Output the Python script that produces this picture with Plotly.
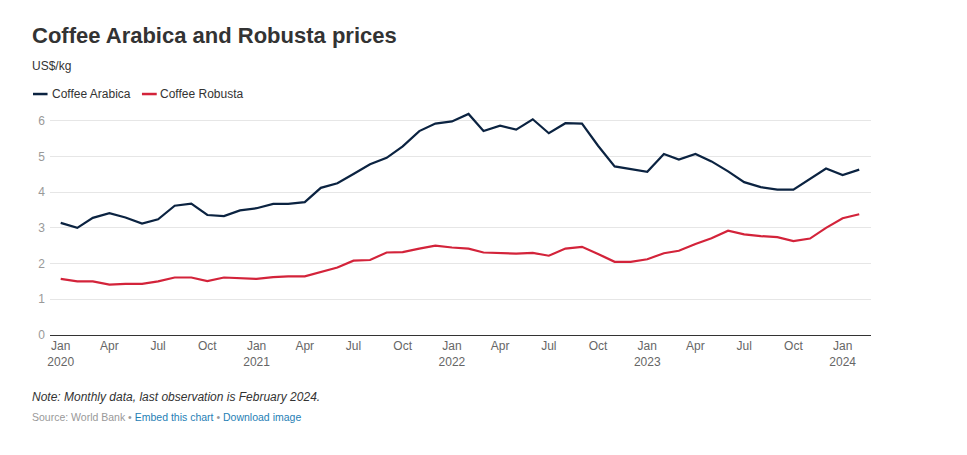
import pandas as pd
import plotly.graph_objects as go

# monthly prices, US$/kg, Jan 2020 - Feb 2024
months = pd.date_range("2020-01-01", "2024-02-01", freq="MS")

arabica = [3.14, 3.00, 3.28, 3.41, 3.29, 3.12, 3.24, 3.62, 3.68, 3.36, 3.33, 3.49,
           3.55, 3.67, 3.67, 3.72, 4.12, 4.25, 4.51, 4.78, 4.96, 5.28, 5.71, 5.92,
           5.98, 6.19, 5.71, 5.86, 5.75, 6.04, 5.65, 5.93, 5.92, 5.30, 4.72, 4.64,
           4.57, 5.07, 4.91, 5.07, 4.86, 4.58, 4.28, 4.14, 4.07, 4.07, 4.36, 4.66,
           4.48, 4.63]

robusta = [1.57, 1.50, 1.50, 1.41, 1.43, 1.43, 1.50, 1.61, 1.61, 1.51, 1.61, 1.60,
           1.57, 1.62, 1.64, 1.64, 1.77, 1.89, 2.08, 2.10, 2.31, 2.32, 2.42, 2.50,
           2.45, 2.42, 2.31, 2.30, 2.28, 2.30, 2.22, 2.42, 2.47, 2.27, 2.05, 2.05,
           2.12, 2.29, 2.36, 2.55, 2.71, 2.92, 2.82, 2.77, 2.74, 2.63, 2.70, 3.00,
           3.27, 3.38]

series_names = ["Coffee Arabica", "Coffee Robusta"]
series_colors = ["#0b2341", "#d3233a"]

tick_dates = pd.date_range("2020-01-01", "2024-01-01", freq="QS")
tick_text = [d.strftime("%b") + ("<br>" + str(d.year) if d.month == 1 else "")
             for d in tick_dates]

FONT = "Liberation Sans, Arial, sans-serif"
TX = -0.0244  # left edge of the text block

fig = go.Figure()
for name, vals, col in zip(series_names, [arabica, robusta], series_colors):
    fig.add_trace(go.Scatter(x=months, y=vals, mode="lines", name=name,
                             line=dict(color=col, width=2.2)))

# page body has an 8px margin, so the figure is a bit smaller than the window
fig.update_layout(
    width=959, height=447,
    margin=dict(l=42, r=96, t=102, b=120),
    plot_bgcolor="white", paper_bgcolor="white",
    font=dict(family=FONT, color="#333333"),
    showlegend=False,
)

fig.update_xaxes(
    type="date",
    range=["2019-12-12", "2024-02-23"],
    tickvals=tick_dates, ticktext=tick_text,
    showgrid=False, showline=True, linecolor="#333333", linewidth=1,
    ticks="", tickfont=dict(size=12, color="#666666"),
)
fig.update_yaxes(
    range=[0, 6.3], tickvals=[0, 1, 2, 3, 4, 5, 6],
    showgrid=True, gridcolor="#e6e6e6", gridwidth=1,
    zeroline=False, showline=False, ticks="",
    tickfont=dict(size=12, color="#999999"), ticklabelstandoff=4,
)

# hand-made legend (short line swatches like the original)
leg_y = 1.071
swatches = [(-0.0207, -0.003, 0.0000), (0.112, 0.130, 0.131)]
for (x0, x1, tx), name, col in zip(swatches, series_names, series_colors):
    fig.add_shape(type="line", xref="paper", yref="paper", x0=x0, x1=x1, y0=leg_y, y1=leg_y,
                  line=dict(color=col, width=2.5))
    fig.add_annotation(text=name, xref="paper", yref="paper", x=tx, y=leg_y,
                       xanchor="left", yanchor="middle", showarrow=False,
                       font=dict(size=12, color="#333333", family=FONT))

fig.add_annotation(text="<b>Coffee Arabica and Robusta prices</b>", xref="paper", yref="paper",
                   x=TX, y=1.333, xanchor="left", yanchor="middle", showarrow=False,
                   font=dict(size=22, color="#333333", family=FONT))
fig.add_annotation(text="US$/kg", xref="paper", yref="paper",
                   x=TX, y=1.196, xanchor="left", yanchor="middle", showarrow=False,
                   font=dict(size=12, color="#333333", family=FONT))
fig.add_annotation(text="<i>Note: Monthly data, last observation is February 2024.</i>",
                   xref="paper", yref="paper", x=TX, y=-0.276, xanchor="left",
                   yanchor="middle", showarrow=False,
                   font=dict(size=12, color="#333333", family=FONT))
fig.add_annotation(text="Source: World Bank • <span style='color:#1f80b5'>Embed this chart</span>"
                        " • <span style='color:#1f80b5'>Download image</span>",
                   xref="paper", yref="paper", x=TX, y=-0.364, xanchor="left",
                   yanchor="middle", showarrow=False,
                   font=dict(size=10.5, color="#999999", family=FONT))

fig.write_html("out.html")
